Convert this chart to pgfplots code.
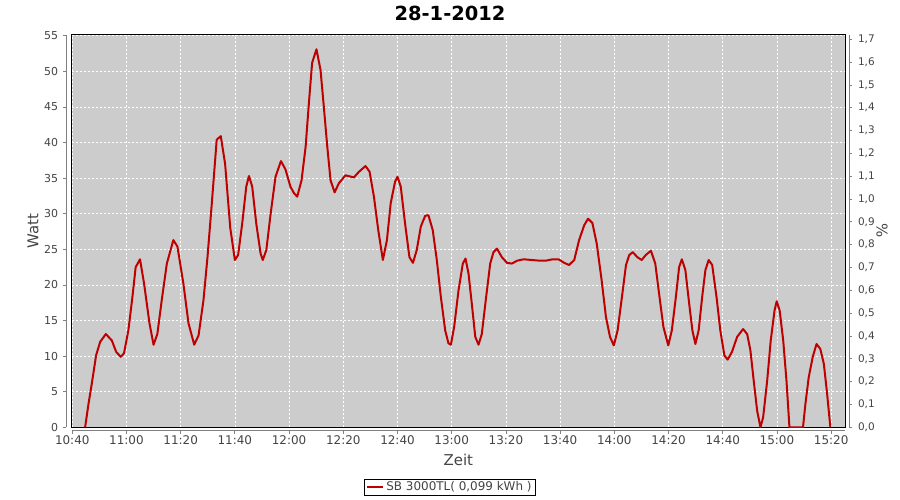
\documentclass[border=0pt]{standalone}
\usepackage{fontspec}
\setmainfont{DejaVu Sans}
\usepackage{pgfplots}
\pgfplotsset{compat=1.18}
\definecolor{bggray}{RGB}{204,204,204}
\definecolor{linered}{RGB}{190,0,0}
\definecolor{axisgray}{RGB}{128,128,128}
\definecolor{labelgray}{RGB}{68,68,68}
\begin{document}
\begin{tikzpicture}
\useasboundingbox (-71.7bp,-72.7bp) rectangle (828.3bp,427.3bp);
\begin{axis}[
  name=main, at={(0,0)}, anchor=south west,
  scale only axis, width=773.3bp, height=392.6bp,
  xmin=39.8, xmax=325.1, ymin=0, ymax=55.15,
  axis background/.style={fill=bggray},
  axis line style={black, line width=0.8bp},
  grid=major, grid style={white, line width=0.6bp, dash pattern=on 2bp off 2bp},
  xtick={40,60,...,320},
  xticklabels={10:40,11:00,11:20,11:40,12:00,12:20,12:40,13:00,13:20,13:40,14:00,14:20,14:40,15:00,15:20},
  ytick={0,5,...,55},
  xtick pos=bottom, ytick pos=left,
  tick align=outside, major tick length=3bp,
  xtick style={draw=axisgray, line width=0.8bp, yshift=-3.4bp},
  ytick style={draw=axisgray, line width=0.8bp, xshift=-5.7bp},
  ticklabel style={font=\fontsize{11}{13}\selectfont, text=labelgray},
  xticklabel style={yshift=-2bp, font=\fontsize{12}{14}\selectfont},
  yticklabel style={xshift=-7bp},
  /pgf/number format/assume math mode=true,
  xlabel={Zeit}, ylabel={Watt},
  xlabel style={at={(axis description cs:0.5,-0.0841)}, anchor=center, font=\fontsize{15}{18}\selectfont, text=labelgray},
  ylabel style={at={(axis description cs:-0.0500,0.5)}, anchor=center, font=\fontsize{15}{18}\selectfont, text=labelgray},
  title={28-1-2012},
  title style={at={(axis description cs:0.4892,1.0400)}, anchor=center, font=\bfseries\fontsize{19.5}{23}\selectfont},
  legend style={at={(axis description cs:0.4892,-0.1521)}, anchor=center, draw=black, fill=white, font=\fontsize{12}{14}\selectfont, text=labelgray, inner xsep=2bp, inner ysep=1bp},
  legend image code/.code={\draw[#1, line width=2bp] (0bp,0bp) -- (16bp,0bp);},
]
\addplot[linered, line width=2bp, line join=round] coordinates {
(44.75,0) (46.0,3.3) (47.2,6.1) (48.8,10.1) (50.3,12.0) (52.4,13.1) (54.6,12.2) (56.2,10.6) (57.9,9.9) (59.1,10.4)
(60.7,13.6) (62.2,18.3) (63.4,22.5) (65.0,23.6) (66.5,20.2) (68.5,14.6) (70.0,11.6) (71.4,13.1) (73.0,17.8) (74.9,23.0)
(77.3,26.3) (78.8,25.4) (81.0,20.2) (82.9,14.6) (85.0,11.6) (86.6,12.9) (88.4,17.8) (89.9,23.9) (91.5,31.5) (93.3,40.4)
(94.8,40.9) (96.4,37.0) (98.3,28.0) (100.0,23.5) (101.2,24.2) (102.7,28.6) (104.2,33.8) (105.2,35.3) (106.4,33.8) (107.9,28.6)
(109.5,24.4) (110.3,23.5) (111.6,24.9) (113.2,30.0) (115.0,35.2) (117.0,37.4) (118.7,36.2) (120.5,33.8) (121.8,32.9) (123.0,32.4)
(124.6,34.7) (126.1,39.4) (127.3,45.5) (128.5,51.2) (130.1,53.1) (131.6,50.2) (132.8,45.1) (134.1,39.4) (135.3,34.7) (136.8,33.0)
(138.4,34.3) (140.8,35.4) (143.9,35.1) (145.8,35.9) (148.2,36.7) (149.7,35.9) (151.3,32.4) (152.9,27.7) (154.6,23.5) (156.1,26.3)
(157.5,31.5) (159.1,34.5) (160.0,35.2) (161.2,33.8) (162.8,28.6) (164.4,23.9) (165.7,23.1) (167.1,24.9) (168.6,28.2) (170.2,29.7)
(171.4,29.8) (173.0,27.7) (174.5,23.5) (176.0,18.3) (177.6,13.6) (178.8,11.8) (179.7,11.6) (180.9,14.1) (182.5,19.2) (184.1,23.0)
(185.1,23.7) (186.2,21.6) (187.4,17.4) (188.7,12.7) (189.9,11.6) (191.1,13.1) (192.7,18.3) (194.2,23.0) (195.4,24.6) (196.7,25.1)
(198.5,23.9) (200.4,23.1) (202.2,23.0) (204.1,23.4) (206.5,23.6) (209.6,23.5) (212.6,23.4) (214.7,23.4) (217.2,23.6) (219.4,23.6)
(221.5,23.1) (223.3,22.8) (225.2,23.5) (227.0,26.3) (228.9,28.4) (230.3,29.3) (231.9,28.7) (233.5,25.8) (235.3,20.7) (236.9,15.5)
(238.4,12.7) (239.8,11.5) (241.2,13.6) (242.8,18.3) (244.3,22.8) (245.5,24.2) (246.8,24.6) (248.5,23.9) (250.1,23.5) (251.6,24.2)
(253.5,24.8) (255.1,23.0) (256.5,18.8) (258.1,14.1) (259.9,11.5) (261.2,13.6) (262.7,18.3) (263.9,22.5) (264.9,23.6) (266.2,22.1)
(267.6,17.4) (268.8,13.6) (269.9,11.7) (271.1,13.6) (272.4,18.3) (273.6,22.1) (274.8,23.5) (276.1,22.8) (277.7,18.3) (279.1,13.6)
(280.6,10.1) (281.8,9.5) (283.4,10.6) (285.3,12.7) (287.5,13.8) (289.0,13.1) (290.2,10.8) (291.4,6.6) (292.7,2.3) (293.9,0)
(294.9,1.4) (296.4,6.6) (297.7,12.2) (299.1,16.4) (299.9,17.7) (301.0,16.4) (302.3,12.2) (303.5,6.6) (304.6,0) (309.6,0)
(310.5,3.3) (311.7,7.0) (313.2,9.9) (314.6,11.7) (316.0,11.0) (317.3,8.9) (318.5,4.7) (319.7,0)
};
\addlegendentry{SB 3000TL( 0,099 kWh )}
\end{axis}
\begin{axis}[
  at={(0,0)}, anchor=south west,
  scale only axis, width=773.3bp, height=392.6bp,
  xmin=39.8, xmax=325.1, ymin=0, ymax=1.72,
  axis x line=none, axis y line*=right,
  axis line style={draw=none},
  ytick={0,0.1,...,1.7},
  tick align=outside, major tick length=3bp,
  ytick style={draw=axisgray, line width=0.8bp, xshift=4bp},
  yticklabel style={font=\fontsize{10.5}{13}\selectfont, text=labelgray, xshift=6.5bp,
    /pgf/number format/.cd, fixed, fixed zerofill, precision=1, use comma},
  /pgf/number format/assume math mode=true,
  ylabel={\%},
  ylabel style={at={(axis description cs:1.0478,0.5)}, anchor=center, rotate=-180, font=\fontsize{15}{18}\selectfont, text=labelgray},
]
\end{axis}
\draw[axisgray, line width=0.8bp] ([xshift=-5.7bp]main.south west) -- ([xshift=-5.7bp]main.north west);
\draw[axisgray, line width=0.8bp] ([xshift=4bp]main.south east) -- ([xshift=4bp]main.north east);
\draw[axisgray, line width=0.8bp] ([yshift=-3.4bp]main.south west) -- ([yshift=-3.4bp]main.south east);
\end{tikzpicture}
\end{document}
